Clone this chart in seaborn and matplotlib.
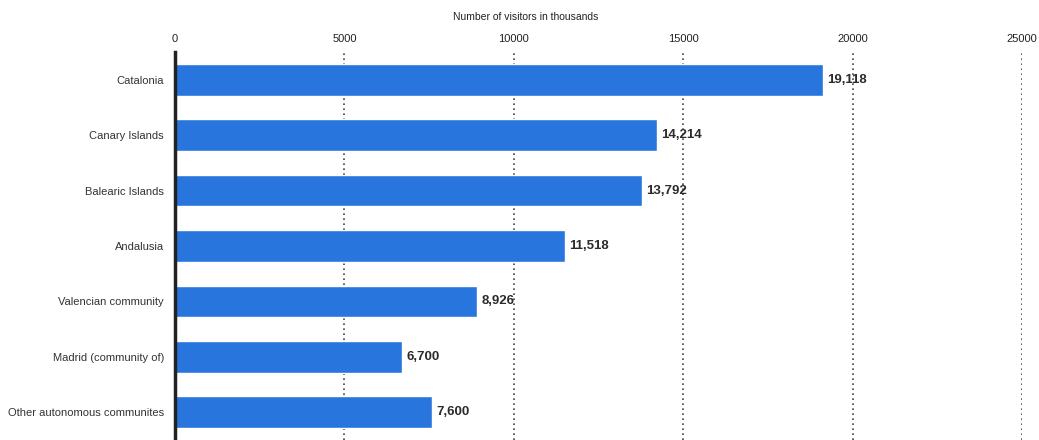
import matplotlib
matplotlib.use("Agg")
import matplotlib.pyplot as plt
import seaborn as sns
import pandas as pd

regions = [
    "Catalonia",
    "Canary Islands",
    "Balearic Islands",
    "Andalusia",
    "Valencian community",
    "Madrid (community of)",
    "Other autonomous communites",
]
visitors = [19118, 14214, 13792, 11518, 8926, 6700, 7600]
x_ticks = [0, 5000, 10000, 15000, 20000, 25000]

df = pd.DataFrame({"region": regions, "visitors": visitors})

sns.set_theme(style="white")
plt.rcParams["font.family"] = ["Liberation Sans", "DejaVu Sans"]

fig = plt.figure(figsize=(10.39, 4.40), dpi=100)
ax = fig.add_axes([175 / 1039, 0.0, (1022 - 175) / 1039, (440 - 52) / 440])

sns.barplot(data=df, x="visitors", y="region", orient="h", color="#2876DD",
            saturation=1, width=0.57, ax=ax, zorder=3)

ax.set_xlim(0, 25000)
ax.set_ylim(6.5, -0.5)
ax.set_xticks(x_ticks)
ax.set_xticklabels([str(t) for t in x_ticks])
ax.xaxis.tick_top()
ax.tick_params(axis="x", length=0, pad=6, labelsize=8, labelcolor="#222222")
ax.tick_params(axis="y", length=0, pad=8, labelsize=8, labelcolor="#333333")
ax.set_xlabel("")
ax.set_ylabel("")

ax.xaxis.grid(True, linestyle=(0, (1, 2)), color="#444444", linewidth=1.2, zorder=0)
ax.yaxis.grid(False)
for side in ["top", "right", "bottom"]:
    ax.spines[side].set_visible(False)
ax.spines["left"].set_color("#222222")
ax.spines["left"].set_linewidth(2.5)
ax.spines["left"].set_zorder(5)

for i, v in enumerate(visitors):
    ax.text(v + 120, i, f"{v:,}", va="center", ha="left", fontsize=9.5,
            fontweight="bold", color="#2b2b2b", zorder=6)

fig.text(526 / 1039, 1 - 17 / 440, "Number of visitors in thousands",
         ha="center", va="center", fontsize=7.5, color="#222222")

fig.savefig("out.png", dpi=100)
